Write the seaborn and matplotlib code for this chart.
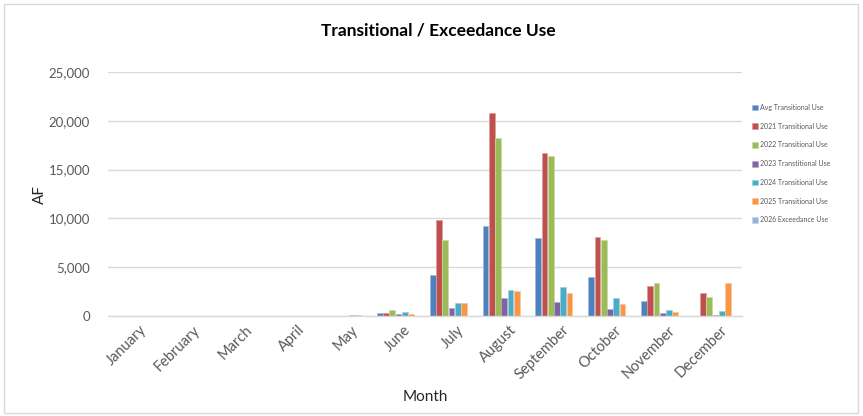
import matplotlib
matplotlib.use("Agg")
import matplotlib.pyplot as plt
import matplotlib.transforms as mtransforms
from matplotlib.patches import Rectangle
import seaborn as sns
import pandas as pd

months = ["January", "February", "March", "April", "May", "June",
          "July", "August", "September", "October", "November", "December"]

series_names = ["Avg Transitional Use", "2021 Transitional Use", "2022 Transitional Use",
                "2023 Transtitional Use", "2024 Transitional Use", "2025 Transitional Use",
                "2026 Exceedance Use"]

avg_use  = [0, 0, 0, 20, 30, 310, 4200, 9250, 8010, 4000, 1540, 0]
use_2021 = [0, 0, 0, 0, 0, 310, 9860, 20750, 16670, 8080, 3080, 2360]
use_2022 = [0, 0, 0, 0, 0, 590, 7780, 18280, 16430, 7810, 3390, 1980]
use_2023 = [0, 0, 0, 30, 40, 240, 850, 1880, 1440, 750, 280, 140]
use_2024 = [0, 0, 0, 0, 90, 380, 1300, 2670, 2980, 1820, 620, 510]
use_2025 = [0, 0, 0, 20, 110, 170, 1330, 2540, 2400, 1270, 450, 3360]
use_2026 = [0, 0, 0, 0, 0, 0, 0, 0, 0, 0, 0, 0]

colors = ["#4F81BD", "#C0504D", "#9BBB59", "#8064A2", "#4BACC6", "#F79646", "#95B3D7"]

all_series = [avg_use, use_2021, use_2022, use_2023, use_2024, use_2025, use_2026]
rows = []
for name, vals in zip(series_names, all_series):
    for m, v in zip(months, vals):
        rows.append({"Month": m, "AF": v, "Series": name})
df = pd.DataFrame(rows)

sns.set_theme(style="white")
plt.rcParams["font.family"] = ["Lato", "DejaVu Sans"]

fig = plt.figure(figsize=(8.63, 4.16), dpi=100)
ax = fig.add_axes([108 / 863, 1 - 316 / 416, (742 - 108) / 863, (316 - 72) / 416])

sns.barplot(data=df, x="Month", y="AF", hue="Series", order=months,
            hue_order=series_names, palette=colors, width=0.83, gap=0.08,
            ax=ax, legend=True, saturation=1)

for patch in ax.patches:
    fc = patch.get_facecolor()
    light = tuple(min(1, c + (1 - c) * 0.45) for c in fc[:3])
    patch.set_edgecolor(light)
    patch.set_linewidth(0.5)

ax.set_ylim(0, 25000)
ax.set_xlim(-0.5, 11.5)
ax.set_yticks([0, 5000, 10000, 15000, 20000, 25000])
ax.set_yticklabels(["0", "5,000", "10,000", "15,000", "20,000", "25,000"])
ax.yaxis.grid(True, color="#D9D9D9", linewidth=1.0)
ax.set_axisbelow(True)
for s in ["top", "right", "left"]:
    ax.spines[s].set_visible(False)
ax.spines["bottom"].set_color("#D9D9D9")
ax.spines["bottom"].set_linewidth(1.0)
ax.tick_params(axis="y", length=0, pad=13, labelsize=9.5, labelcolor="#595959")
ax.tick_params(axis="x", length=0, pad=5, labelsize=10.5, labelcolor="#595959")
offset = mtransforms.ScaledTranslation(5 / 100, 0, fig.dpi_scale_trans)
for lbl in ax.get_xticklabels():
    lbl.set_rotation(45)
    lbl.set_ha("right")
    lbl.set_rotation_mode("anchor")
    lbl.set_transform(lbl.get_transform() + offset)

ax.set_xlabel("Month", fontsize=11, color="#262626")
ax.set_ylabel("AF", fontsize=11, color="#262626")
ax.xaxis.set_label_coords((425 - 108) / (742 - 108), -(397 - 316) / (316 - 72))
ax.xaxis.label.set_va("center")
ax.yaxis.set_label_coords(-(108 - 40) / (742 - 108), (316 - 195) / (316 - 72))
ax.yaxis.label.set_va("center")

fig.text(438 / 863, 1 - 31 / 416, "Transitional / Exceedance Use", ha="center", va="center",
         fontsize=12.5, fontweight="bold", color="#000000")

handles, labels = ax.get_legend_handles_labels()
ax.get_legend().remove()
fig.legend(handles, labels, loc="upper left", bbox_to_anchor=(752 / 863, 1 - 104 / 416),
           frameon=False, fontsize=5, labelcolor="#595959", handlelength=0.9,
           handleheight=0.9, handletextpad=0.3, labelspacing=1.69, borderpad=0,
           borderaxespad=0)

fig.patches.append(Rectangle((4 / 863, 3 / 416), 854 / 863, 409 / 416, transform=fig.transFigure,
                             fill=False, edgecolor="#D9D9D9", linewidth=1.0))

fig.savefig("out.png", dpi=100)
